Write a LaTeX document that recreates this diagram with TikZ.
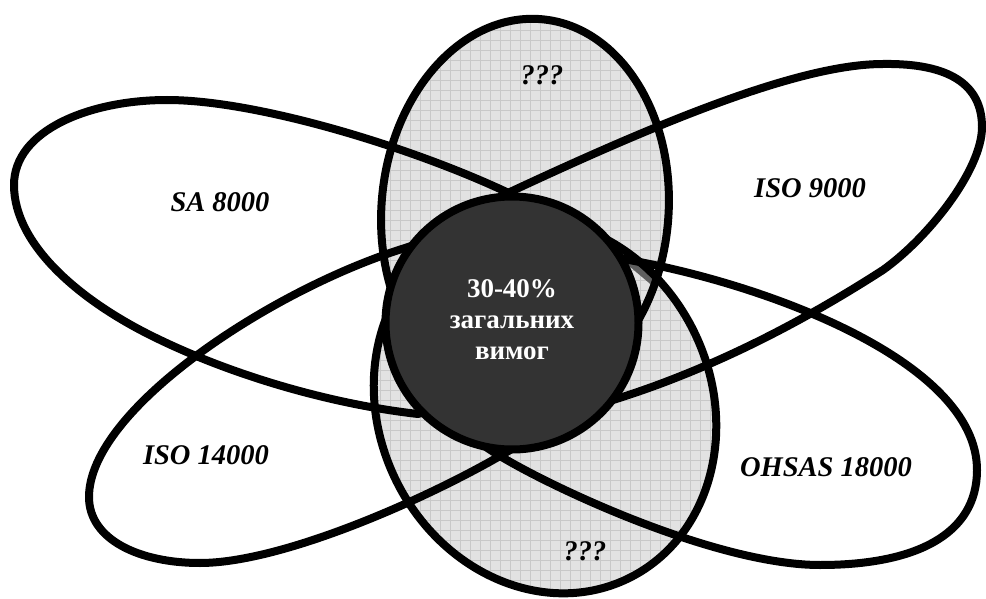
\documentclass[tikz,border=0pt]{standalone}
\usepackage{fontspec}
\setmainfont{Liberation Serif}
\definecolor{cellgrey}{RGB}{226,226,226}
\definecolor{gridgrey}{RGB}{200,200,200}
\definecolor{coregrey}{RGB}{51,51,51}
\definecolor{slivergrey}{RGB}{95,95,95}
\begin{document}
\begin{tikzpicture}[x=1pt,y=-1pt,
  outline/.style={line width=8pt, line join=round},
  gridline/.style={draw=gridgrey, line width=0.8pt},
  stdlabel/.style={font=\fontsize{28.5}{32}\selectfont\bfseries\itshape, inner sep=0pt},
  corecircle/.style={circle, draw, line width=8pt, fill=coregrey, minimum size=253pt, inner sep=0pt},
  coretext/.style={text=white, align=center, inner sep=0pt,
    font=\fontsize{27}{31}\selectfont\bfseries},
]
\useasboundingbox (0,0) rectangle (986,599);

\coordinate (topc) at (525,210);
\coordinate (botc) at (545,406);

% grid-filled upper and lower ellipses
\fill[cellgrey, rotate around={-5:(topc)}] (topc) ellipse [x radius=143.5, y radius=191.5];
\fill[cellgrey, rotate around={25:(botc)}] (botc) ellipse [x radius=166.5, y radius=191.5];
\begin{scope}
  \clip[rotate around={-5:(topc)}] (topc) ellipse [x radius=143.5, y radius=191.5];
  \foreach \gx in {370,380,...,740} \draw[gridline] (\gx,0) -- (\gx,599);
  \foreach \gy in {0,10,...,600} \draw[gridline] (360,\gy) -- (740,\gy);
\end{scope}
\begin{scope}
  \clip[rotate around={25:(botc)}] (botc) ellipse [x radius=166.5, y radius=191.5];
  \foreach \gx in {370,380,...,740} \draw[gridline] (\gx,0) -- (\gx,599);
  \foreach \gy in {0,10,...,600} \draw[gridline] (360,\gy) -- (740,\gy);
\end{scope}

% dark strip beside the core circle
\fill[slivergrey] (603,244) -- (610,238) -- (663,280) -- (655,288) -- cycle;

\draw[outline, rotate around={-5:(topc)}] (topc) ellipse [x radius=143.5, y radius=191.5];
\draw[outline, rotate around={25:(botc)}] (botc) ellipse [x radius=166.5, y radius=191.5];

% SA 8000 (blunt end upper left, narrow end under the core)
\draw[outline] (14,185) .. controls (14,130) and (90,100) .. (167,100)
  .. controls (260,100) and (420,150) .. (515,196)
  .. controls (590,232) and (610,260) .. (600,300)
  .. controls (590,350) and (480,395) .. (418,414)
  .. controls (330,404) and (230,375) .. (150,335)
  .. controls (80,300) and (14,245) .. cycle;

% ISO 9000 (blunt end upper right)
\draw[outline] (883,64) .. controls (950,63) and (982,85) .. (982,127)
  .. controls (982,170) and (928,238) .. (883,270)
  .. controls (793,328) and (703,372) .. (613,400)
  .. controls (540,422) and (440,400) .. (425,320)
  .. controls (415,260) and (450,222) .. (510,192)
  .. controls (660,122) and (800,64) .. cycle;

% ISO 14000 (blunt end lower left)
\draw[outline] (89,497) .. controls (89,540) and (140,563) .. (200,563)
  .. controls (280,563) and (420,502) .. (500,456)
  .. controls (580,410) and (625,340) .. (615,290)
  .. controls (605,245) and (470,225) .. (405,248)
  .. controls (270,290) and (89,410) .. cycle;

% OHSAS 18000 (blunt end lower right)
\draw[outline] (977,470) .. controls (977,535) and (915,565) .. (820,565)
  .. controls (720,565) and (560,492) .. (500,456)
  .. controls (440,420) and (405,370) .. (415,310)
  .. controls (425,260) and (540,245) .. (623,259)
  .. controls (760,282) and (977,360) .. cycle;

\node[corecircle] (core) at (512,323) {};
\node[coretext] (coretxt) at (512,320) {30-40\%\\загальних\\вимог};

\node[stdlabel] (sa) at (220,202) {SA 8000};
\node[stdlabel] (iso9) at (810,188) {ISO 9000};
\node[stdlabel] (iso14) at (206,455) {ISO 14000};
\node[stdlabel] (ohsas) at (826,467) {OHSAS 18000};
\node[stdlabel] (qtop) at (542,75) {???};
\node[stdlabel] (qbot) at (585,551) {???};
\end{tikzpicture}
\end{document}
